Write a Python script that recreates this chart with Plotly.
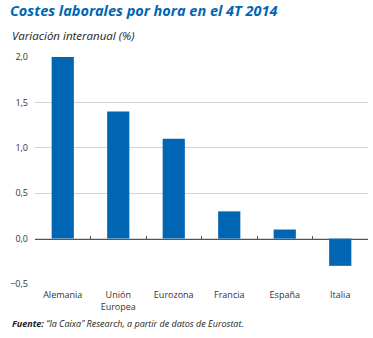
import plotly.graph_objects as go

categories = ["Alemania", "Unión<br>Europea", "Eurozona", "Francia", "España", "Italia"]
values = [2.0, 1.4, 1.1, 0.3, 0.1, -0.3]
y_ticks = [-0.5, 0.0, 0.5, 1.0, 1.5, 2.0]
boundaries = [-0.5, 0.5, 1.5, 2.5, 3.5, 4.5, 5.5]

BLUE = "#0066b3"
FONT = "Open Sans"
W, H = 373, 338
ML, MR, MT, MB = 35, 5, 57, 54
PW = W - ML - MR
PH = H - MT - MB

def px_x(px):
    return (px - ML) / PW

def px_y(py):
    return (H - MB - py) / PH

fig = go.Figure()
fig.add_trace(go.Bar(
    x=list(range(len(categories))), y=values,
    marker=dict(color=BLUE, line=dict(width=0)),
    hoverinfo="skip",
))
# invisible trace on the zero-line axis so it renders
fig.add_trace(go.Scatter(x=[boundaries[0]], y=[0], xaxis="x2", mode="markers",
                         marker=dict(opacity=0), hoverinfo="skip", showlegend=False))

fig.update_layout(
    width=W, height=H,
    margin=dict(l=ML, r=MR, t=MT, b=MB),
    paper_bgcolor="white", plot_bgcolor="white",
    separators=",.",
    showlegend=False,
    bargap=0.6,
    font=dict(family=FONT, color="#333333"),
    xaxis=dict(
        range=[-0.5, 5.5],
        tickvals=list(range(len(categories))),
        ticktext=categories,
        showgrid=False, zeroline=False, showline=False, ticks="",
        tickfont=dict(size=9, color="#333333"),
        ticklabelstandoff=4,
        fixedrange=True,
    ),
    xaxis2=dict(
        range=[-0.5, 5.5], overlaying="x", anchor="free", position=0.2,
        side="bottom",
        tickvals=boundaries, showticklabels=False,
        ticks="inside", ticklen=3, tickwidth=1, tickcolor="#555555",
        showline=True, linecolor="#555555", linewidth=1,
        showgrid=False, zeroline=False,
    ),
    yaxis=dict(
        range=[-0.5, 2.0],
        tickvals=y_ticks, tickformat=".1f",
        showgrid=True, gridcolor="#d4d4d4", gridwidth=1,
        zeroline=False, showline=False, ticks="",
        tickfont=dict(size=9, color="#333333"),
        ticklabelstandoff=6,
        fixedrange=True,
    ),
    title=dict(
        text="<b><i>Costes laborales por hora en el 4T 2014</i></b>",
        font=dict(family=FONT, size=14.5, color=BLUE),
        xref="container", yref="container",
        x=10 / W, y=1 - 6 / H, xanchor="left", yanchor="top",
    ),
    annotations=[
        dict(text="<i>Variación interanual (%)</i>", xref="paper", yref="paper",
             x=px_x(10), y=px_y(26), xanchor="left", yanchor="top", showarrow=False,
             font=dict(family=FONT, size=11.5, color="#222222")),
        dict(text="<b><i>Fuente:</i></b><i> “la Caixa” Research, a partir de datos de Eurostat.</i>",
             xref="paper", yref="paper",
             x=px_x(10), y=px_y(315), xanchor="left", yanchor="top", showarrow=False,
             font=dict(family=FONT, size=9, color="#222222")),
    ],
)

fig.write_html("out.html")
